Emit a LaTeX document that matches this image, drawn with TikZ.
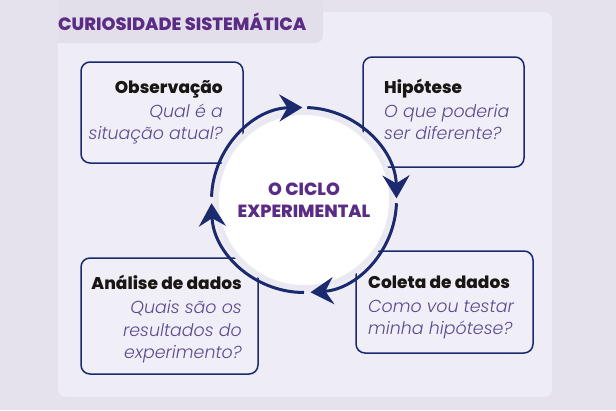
\documentclass[tikz,border=0pt]{standalone}
\usepackage{fontspec}
\setmainfont{Poppins}
\newfontfamily\heavyfont{Poppins ExtraBold}
\newfontfamily\boldfont{Poppins Bold}
\newfontfamily\lightitfont{Poppins Light Italic}
\usetikzlibrary{arrows.meta}
\definecolor{outerbg}{HTML}{E6E2ED}
\definecolor{tabbg}{HTML}{E3DFEA}
\definecolor{panelbg}{HTML}{EEEDF5}
\definecolor{boxbg}{HTML}{F0EFF7}
\definecolor{navy}{HTML}{1B2A6E}
\definecolor{titlepurple}{HTML}{5B2C86}
\definecolor{qpurple}{HTML}{5C4A8E}
\definecolor{ink}{HTML}{1A1614}
\definecolor{ringgrey}{HTML}{EAE9F2}
\begin{document}
\begin{tikzpicture}[x=1pt,y=-1pt,
  stepbox/.style={draw=navy, line width=1.5pt, fill=boxbg, rounded corners=9pt, inner sep=0pt},
  head/.style={font=\fontsize{17}{20}\selectfont\heavyfont, text=ink, inner sep=0pt},
  question/.style={font=\fontsize{17.4}{20}\selectfont\lightitfont, text=qpurple, inner sep=0pt},
  cyclearc/.style={draw=navy, line width=3pt, -{Stealth[length=23pt,width=27pt,inset=8pt]}},
  bigtitle/.style={font=\fontsize{17.8}{20}\selectfont\heavyfont, text=titlepurple, inner sep=0pt},
  centertext/.style={font=\fontsize{17.6}{20}\selectfont\heavyfont, text=titlepurple, inner sep=0pt}
]
\useasboundingbox (0,0) rectangle (616,410);
\fill[outerbg] (0,0) rectangle (616,410);
% panel
\fill[panelbg, rounded corners=8pt] (58,12) rectangle (552,397);
\fill[tabbg, rounded corners=8pt] (-10,-10) rectangle (323,43);
\fill[outerbg] (-10,-10) rectangle (58,60);
\fill[outerbg] (-10,-10) rectangle (330,0);
\node[bigtitle, anchor=base west] (title) at (58,30) {CURIOSIDADE SISTEMÁTICA};

% boxes
\node[stepbox, minimum width=162pt, minimum height=101pt] (obs) at (162,112.5) {};
\node[stepbox, minimum width=161pt, minimum height=110pt] (hip) at (443.5,112) {};
\node[stepbox, minimum width=177pt, minimum height=116pt] (ana) at (169.5,316) {};
\node[stepbox, minimum width=177pt, minimum height=102pt] (col) at (444.5,302) {};

% box texts
\node[head, anchor=base east] (obsh) at (223,93) {Observação};
\node[question, anchor=base east] (obsq1) at (223,117) {Qual é a};
\node[question, anchor=base east] (obsq2) at (223,139) {situação atual?};

\node[head, anchor=base west] (hiph) at (384,93) {Hipótese};
\node[question, anchor=base west] (hipq1) at (384,117) {O que poderia};
\node[question, anchor=base west] (hipq2) at (384,139) {ser diferente?};

\node[head, anchor=base east] (anah) at (242,289) {Análise de dados};
\node[question, anchor=base east] (anaq1) at (242,313) {Quais são os};
\node[question, anchor=base east] (anaq2) at (242,336) {resultados do};
\node[question, anchor=base east] (anaq3) at (242,358) {experimento?};

\node[head, anchor=base west] (colh) at (368,288) {Coleta de dados};
\node[question, anchor=base west] (colq1) at (368,312) {Como vou testar};
\node[question, anchor=base west] (colq2) at (368,334) {minha hipótese?};

% cycle
\coordinate (ctr) at (304,200);
\fill[ringgrey] (ctr) circle (90);
\fill[white] (ctr) circle (85);
\draw[cyclearc] (ctr) ++(182:92.5) arc[start angle=182, end angle=269, radius=92.5];
\draw[cyclearc] (ctr) ++(272:92.5) arc[start angle=272, end angle=359, radius=92.5];
\draw[cyclearc] (ctr) ++(2:92.5) arc[start angle=2, end angle=86, radius=92.5];
\draw[cyclearc] (ctr) ++(90:92.5) arc[start angle=90, end angle=178, radius=92.5];

\node[centertext, anchor=base] (c1) at (304,195) {O CICLO};
\node[centertext, anchor=base] (c2) at (304,217) {EXPERIMENTAL};
\end{tikzpicture}
\end{document}
